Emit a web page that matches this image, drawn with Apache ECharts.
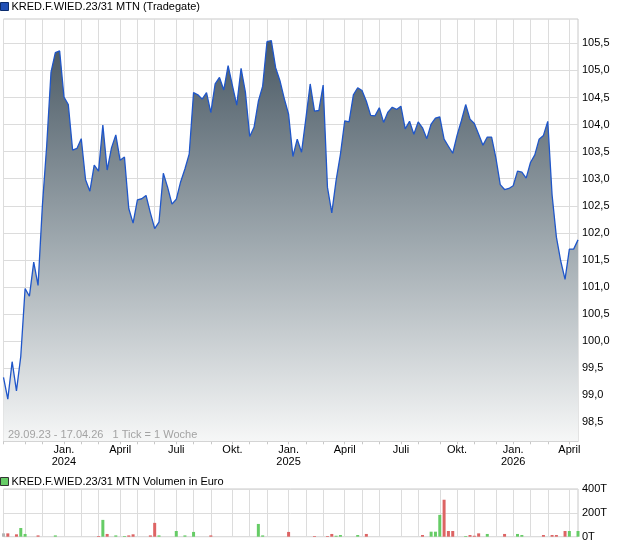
<!DOCTYPE html>
<html><head><meta charset="utf-8">
<script src="https://cdn.jsdelivr.net/npm/echarts@6/dist/echarts.min.js"></script>
<style>html,body{margin:0;padding:0;background:#fff}#c{width:620px;height:546px}</style>
</head><body><div id="c"></div>
<script>
// ---- data ----
const seriesName = 'KRED.F.WIED.23/31 MTN (Tradegate)';
const volumeName = 'KRED.F.WIED.23/31 MTN Volumen in Euro';
const rangeText = '29.09.23 - 17.04.26   1 Tick = 1 Woche';
const firstWeek = [2023, 8, 29]; // Friday 29.09.2023, weekly ticks
const prices = [
 99.33, 98.93, 99.62, 99.08, 99.72,100.97,100.83,101.46,101.03,102.50,
103.61,104.97,105.33,105.36,104.51,104.37,103.53,103.56,103.74,102.98,
102.77,103.25,103.14,103.99,103.16,103.57,103.81,103.34,103.40,102.45,
102.18,102.61,102.63,102.69,102.37,102.08,102.20,103.10,102.84,102.53,
102.62,102.94,103.18,103.46,104.59,104.55,104.47,104.59,104.22,104.75,
104.87,104.64,105.09,104.72,104.36,105.04,104.60,103.78,103.95,104.43,
104.71,105.53,105.55,105.05,104.81,104.48,104.19,103.41,103.73,103.49,
104.11,104.75,104.25,104.26,104.73,102.84,102.37,102.97,103.45,104.07,
104.05,104.55,104.68,104.63,104.43,104.17,104.16,104.31,104.04,104.23,
104.32,104.28,104.34,103.92,104.06,103.82,104.05,103.94,103.74,104.01,
104.12,104.14,103.73,103.60,103.47,103.80,104.07,104.37,104.10,104.02,
103.82,103.62,103.77,103.77,103.38,102.89,102.80,102.82,102.87,103.14,
103.12,103.01,103.30,103.44,103.73,103.80,104.06,102.70,101.92,101.48,
101.14,101.70,101.70,101.87];
const volWeeks = [0,1,3,4,5,8,12,22,23,24,26,28,29,30,34,35,36,40,42,44,48,59,60,66,72,75,76,77,78,82,84,97,99,100,101,102,103,104,107,108,109,110,112,116,119,120,125,127,128,130,131,133];
const volValuesT = [28,28,20,73,23,11,11,6,141,23,11,6,11,20,11,116,11,48,11,40,11,107,11,40,6,6,23,8,14,14,23,14,42,42,183,310,48,48,6,14,8,28,23,23,23,14,14,14,14,48,48,48];
const volDir = ['n','d','d','u','u','d','u','d','u','d','u','u','d','d','d','d','u','u','u','u','d','u','u','d','d','d','d','u','u','u','d','d','u','u','u','d','d','d','u','d','d','d','u','d','u','u','d','d','d','d','u','u'];
const priceAxis = {min: 98, max: 106, step: 0.5, viewMin: 98.15, viewMax: 105.95};
const volAxis = {min: 0, max: 400000, step: 200000};
const monthLabels = {0: 'Jan.', 3: 'April', 6: 'Juli', 9: 'Okt.'};

// ---- build ----
const DAY = 864e5;
const weeks = prices.map((_, i) => new Date(Date.UTC(firstWeek[0], firstWeek[1], firstWeek[2]) + i * 7 * DAY));
const categories = weeks.map(d => d.toISOString().slice(0, 10));
function monthStart(i) {
  const fri = weeks[i].getTime();
  const mon = new Date(fri - 4 * DAY), sun = new Date(fri + 2 * DAY);
  return (mon.getUTCMonth() !== sun.getUTCMonth() || mon.getUTCDate() === 1) ? sun : null;
}
const isMonth = i => monthStart(i) !== null;
const isQuarter = i => { const m = monthStart(i); return i > 0 && m && m.getUTCMonth() % 3 === 0; };
const colors = {u: '#66cc66', d: '#dd6464', n: '#b4b4b4'};
const volData = categories.map(() => null);
volWeeks.forEach((w, k) => { volData[w] = {value: volValuesT[k] * 1000, itemStyle: {color: colors[volDir[k]]}}; });

const FONT = 'Liberation Sans, Arial, sans-serif';
const L = 3.5, R = 42;
const top0 = 19, h0 = 422.3;
const s = h0 / (priceAxis.viewMax - priceAxis.viewMin);
const top1 = top0 - (priceAxis.max - priceAxis.viewMax) * s;
const h1 = (priceAxis.max - priceAxis.min) * s;
const gridLine = {show: true, lineStyle: {color: '#dcdcdc', width: 1}};

const chart = echarts.init(document.getElementById('c'), null, {renderer: 'canvas'});
chart.setOption({
  animation: false,
  textStyle: {fontFamily: FONT},
  legend: [
    {left: 0, top: 1, padding: 0, itemWidth: 8, itemHeight: 8, icon: 'rect', selectedMode: false,
     textStyle: {fontSize: 11, color: '#000', fontFamily: FONT, padding: [0,0,0,-2]},
     data: [{name: seriesName, itemStyle: {color: '#2150b5', borderColor: '#0b2c6e', borderWidth: 1}}]},
    {left: 0, top: 476, padding: 0, itemWidth: 8, itemHeight: 8, icon: 'rect', selectedMode: false,
     textStyle: {fontSize: 11, color: '#000', fontFamily: FONT, padding: [0,0,0,-2]},
     data: [{name: volumeName, itemStyle: {color: '#66cc66', borderColor: '#333', borderWidth: 1}}]}
  ],
  title: {text: rangeText, left: 8, top: 429, padding: 0,
    textStyle: {fontSize: 11, color: '#a3a3a3', fontWeight: 'normal', fontFamily: FONT}},
  grid: [
    {left: L, right: R, top: top0, height: h0, show: true, borderColor: '#c8c8c8', borderWidth: 1},
    {left: L, right: R, top: top1, height: h1},
    {left: L, right: R, top: 489, height: 47.7, show: true, borderColor: '#c8c8c8', borderWidth: 1}
  ],
  xAxis: [
    {gridIndex: 0, type: 'category', data: categories, boundaryGap: false,
     axisLine: {show: true, lineStyle: {color: '#c8c8c8'}},
     axisTick: {show: true, interval: i => isMonth(i), length: 3, lineStyle: {color: '#c8c8c8'}},
     splitLine: Object.assign({interval: i => isMonth(i)}, gridLine),
     axisLabel: {interval: i => isQuarter(i), margin: 3, fontSize: 11, lineHeight: 12, color: '#000', fontFamily: FONT,
       formatter: (v, i) => { const m = monthStart(i); if (!m) return ''; const mo = m.getUTCMonth();
         return mo === 0 ? 'Jan.\n' + m.getUTCFullYear() : monthLabels[mo]; }}},
    {gridIndex: 1, type: 'category', data: categories, boundaryGap: false, show: false},
    {gridIndex: 2, type: 'category', data: categories, boundaryGap: false,
     axisLine: {show: false}, axisTick: {show: false}, axisLabel: {show: false},
     splitLine: Object.assign({interval: i => isMonth(i)}, gridLine)}
  ],
  yAxis: [
    {gridIndex: 0, type: 'value', min: priceAxis.viewMin, max: priceAxis.viewMax, show: false, splitLine: {show: false}},
    {gridIndex: 1, type: 'value', position: 'right', min: priceAxis.min, max: priceAxis.max, interval: priceAxis.step,
     axisLine: {show: false}, axisTick: {show: false},
     splitLine: Object.assign({showMinLine: false, showMaxLine: false}, gridLine),
     axisLabel: {margin: 4, fontSize: 11, color: '#000', fontFamily: FONT, showMinLabel: false, showMaxLabel: false,
       formatter: v => (v < priceAxis.viewMin || v > priceAxis.viewMax) ? '' : v.toFixed(1).replace('.', ',')}},
    {gridIndex: 2, type: 'value', position: 'right', min: volAxis.min, max: volAxis.max, interval: volAxis.step,
     axisLine: {show: false}, axisTick: {show: false}, splitLine: gridLine,
     axisLabel: {margin: 4, fontSize: 11, color: '#000', fontFamily: FONT, formatter: v => (v / 1000) + 'T'}}
  ],
  series: [
    {name: seriesName, type: 'line', xAxisIndex: 0, yAxisIndex: 0, data: prices, showSymbol: false, symbol: 'none',
     lineStyle: {color: '#1f56c9', width: 1.3}, itemStyle: {color: '#2150b5'},
     areaStyle: {origin: 'start', opacity: 1, color: new echarts.graphic.LinearGradient(0, 0, 0, 1, [
       {offset: 0, color: '#4a5964'}, {offset: 0.5, color: '#9ea8ae'}, {offset: 1, color: '#f6f7f7'}])}},
    {name: volumeName, type: 'bar', xAxisIndex: 2, yAxisIndex: 2, data: volData, barWidth: 3,
     itemStyle: {color: '#66cc66'}}
  ]
});
</script></body></html>
